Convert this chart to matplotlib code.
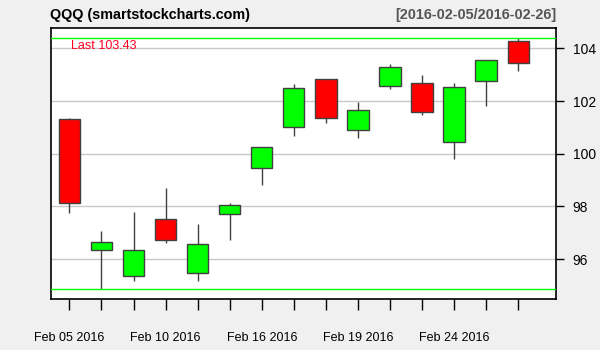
import numpy as np
import matplotlib.pyplot as plt
from datetime import datetime

dates = ["2016-02-05", "2016-02-08", "2016-02-09", "2016-02-10", "2016-02-11",
         "2016-02-12", "2016-02-16", "2016-02-17", "2016-02-18", "2016-02-19",
         "2016-02-22", "2016-02-23", "2016-02-24", "2016-02-25", "2016-02-26"]
opens = [101.30, 96.33, 95.38, 97.51, 95.46, 97.70, 99.46, 101.00, 102.82, 100.92,
         102.56, 102.67, 100.43, 102.75, 104.26]
highs = [101.34, 97.07, 97.79, 98.70, 97.33, 98.13, 100.24, 102.65, 102.82, 101.96,
         103.40, 102.99, 102.67, 103.54, 104.38]
lows = [97.74, 94.87, 95.18, 96.62, 95.18, 96.74, 98.82, 100.68, 101.18, 100.61,
        102.47, 101.48, 99.79, 101.82, 103.15]
closes = [98.12, 96.64, 96.33, 96.71, 96.56, 98.04, 100.24, 102.48, 101.34, 101.65,
          103.28, 101.57, 102.54, 103.54, 103.43]
label_idx = [0, 3, 6, 9, 12]
yticks = [96, 98, 100, 102, 104]

plt.rcParams['font.family'] = ['Liberation Sans', 'DejaVu Sans']

fig = plt.figure(figsize=(6, 3.5), dpi=100, facecolor="#F0F0F0")
ax = fig.add_axes([0.0842, 0.1443, 0.8425, 0.7748])
ax.set_facecolor("white")

x = np.arange(len(dates))
o, h, l, c = map(np.array, (opens, highs, lows, closes))
cols = np.where(c >= o, "#00FF00", "#FF0000")

for yt in yticks:
    ax.axhline(yt, color="#C8C8C8", lw=1, zorder=0)

ax.vlines(x, l, h, color="#404040", lw=1, zorder=1)
ax.bar(x, np.abs(c - o), bottom=np.minimum(o, c), width=0.665, color=cols,
       edgecolor="#404040", linewidth=1, zorder=2)

ax.axhline(max(highs), color="#00FF00", lw=1, zorder=3)
ax.axhline(min(lows), color="#00FF00", lw=1, zorder=3)

ax.text(0.05, 104.38 - 0.05, "Last " + str(closes[-1]), color="#FF0022",
        fontsize=9, va="top", ha="left")

ax.set_xlim(-0.59, 15.18)
ax.set_ylim(94.47, 104.76)

ax.yaxis.tick_right()
ax.set_yticks(yticks)
ax.tick_params(axis="y", length=6, width=1, labelsize=10, pad=6, colors="black")

xl = []
for i in range(len(dates)):
    if i in label_idx:
        xl.append(datetime.strptime(dates[i], "%Y-%m-%d").strftime("%b %d %Y"))
    else:
        xl.append("")
ax.set_xticks(x)
ax.set_xticklabels(xl)
ax.tick_params(axis="x", length=8, width=1, labelsize=9, pad=15.5, colors="black")

for s in ax.spines.values():
    s.set_linewidth(1.2)
    s.set_color("black")

fig.text(50.5 / 600, 1 - 15 / 350, "QQQ (smartstockcharts.com)", fontsize=10.4,
         fontweight="bold", va="center", ha="left")
fig.text(556 / 600, 1 - 15 / 350, "[" + dates[0] + "/" + dates[-1] + "]",
         fontsize=10.4, fontweight="bold", color="#555555", va="center", ha="right")

plt.savefig("out.png", dpi=100, facecolor=fig.get_facecolor())
